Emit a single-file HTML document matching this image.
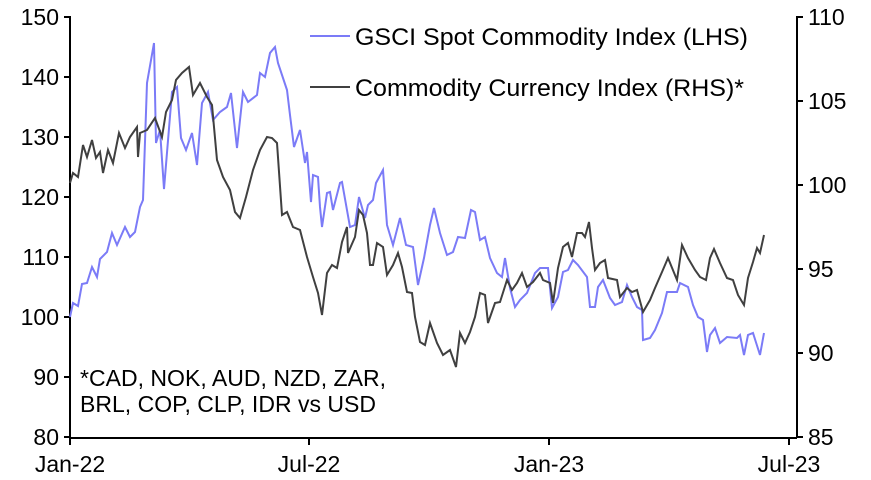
<!DOCTYPE html>
<html><head><style>
html,body{margin:0;padding:0;background:#fff;}
svg{display:block;font-family:"Liberation Sans",Arial,sans-serif;}
</style></head><body>
<svg width="871" height="480" viewBox="0 0 871 480">
<g font-size="23" fill="#000" text-anchor="end">
<text x="59" y="25">150</text><text x="59" y="85">140</text><text x="59" y="145">130</text><text x="59" y="205">120</text><text x="59" y="265">110</text><text x="59" y="325">100</text><text x="59" y="385">90</text><text x="59" y="445">80</text>
</g>
<g font-size="23" fill="#000" text-anchor="start">
<text x="808" y="25">110</text><text x="808" y="109">105</text><text x="808" y="193">100</text><text x="808" y="277">95</text><text x="808" y="361">90</text><text x="808" y="445">85</text>
</g>
<g font-size="23" fill="#000" text-anchor="middle">
<text x="70" y="472">Jan-22</text><text x="309" y="472">Jul-22</text><text x="549" y="472">Jan-23</text><text x="789" y="472">Jul-23</text>
</g>
<g stroke="#000" stroke-width="2" fill="none">
<path d="M70,16V438H797M797,16V438"/>
<path d="M64,17H70M64,77H70M64,137H70M64,197H70M64,257H70M64,317H70M64,377H70M64,437H70"/>
<path d="M797,17H803M797,101H803M797,185H803M797,269H803M797,353H803M797,437H803"/>
<path d="M70,437V445M309,437V445M549,437V445M789,437V445"/>
</g>
<polyline fill="none" stroke="#7b7bf7" stroke-width="2" points="70,317 73,303 78,306 82,284 87,283 92,267 97,277 100,259 107,252 112,233 117,245 125,227 130,237 135,232 140,207 143,200 147,83 154,43 156,143 160,130 164,189 172,92 177,87 181,138 186,150 192,133 197,165 202,103 208,92 213,120 220,112 227,107 231,93 237,148 243,92 248,102 257,95 260,73 265,77 270,53 275,47 278,63 287,90 290,115 294,147 300,130 305,163 307,152 311,202 313,175 318,177 320,207 322,227 327,193 330,192 333,210 340,183 342,182 350,227 355,225 359,197 365,218 368,205 373,200 376,183 383,170 387,225 393,245 400,218 406,245 413,247 418,285 424,258 430,225 434,208 440,233 447,255 453,252 458,237 465,238 471,210 475,212 480,240 485,237 490,258 497,273 502,277 505,258 510,288 515,307 520,300 527,293 535,273 540,268 545,268 548,268 552,308 558,297 563,272 568,270 573,260 578,265 587,277 590,307 595,307 598,287 603,280 610,298 615,305 622,302 627,285 632,297 637,307 642,310 643,340 650,338 655,330 662,313 667,292 677,292 680,283 688,287 693,305 698,317 703,320 707,352 710,335 715,328 720,343 727,337 737,338 740,335 744,355 748,335 753,333 760,355 764,333"/>
<polyline fill="none" stroke="#404040" stroke-width="2" points="70,183 73,173 78,177 83,145 87,157 92,140 96,158 100,152 103,173 108,150 113,163 119,133 125,148 130,137 137,127 138,157 140,133 147,130 155,118 162,137 166,112 172,100 176,80 182,73 189,67 193,95 200,83 207,97 212,105 217,160 223,177 230,190 235,212 240,218 246,197 253,170 260,150 267,137 272,138 277,143 282,215 287,212 293,227 300,230 307,257 313,277 318,293 322,315 327,273 332,265 337,268 342,242 347,227 348,253 355,237 359,210 363,215 367,233 370,265 373,265 377,243 383,247 387,275 393,265 398,253 402,267 407,292 412,293 415,317 420,342 425,345 430,323 437,343 443,355 450,350 456,367 460,333 465,343 470,332 475,317 480,293 485,295 488,323 495,303 500,302 507,280 512,290 517,283 522,273 527,287 533,282 540,273 543,280 550,283 553,303 558,268 563,247 568,243 572,257 577,233 582,233 585,237 589,222 592,248 595,270 600,263 605,260 608,278 617,280 620,297 627,288 632,292 637,290 643,312 650,300 655,288 662,272 668,258 677,280 682,245 688,258 695,270 700,277 706,280 710,258 714,249 720,263 727,278 733,280 738,295 744,305 748,278 753,262 757,248 760,253 764,235"/>
<line x1="310" y1="36" x2="350" y2="36" stroke="#7b7bf7" stroke-width="2"/>
<line x1="310" y1="87" x2="350" y2="87" stroke="#404040" stroke-width="2"/>
<g font-size="24" fill="#000">
<text x="355" y="45" textLength="393" lengthAdjust="spacingAndGlyphs">GSCI Spot Commodity Index (LHS)</text>
<text x="355" y="96" textLength="389" lengthAdjust="spacingAndGlyphs">Commodity Currency Index (RHS)*</text>
</g>
<g font-size="23" fill="#000">
<text x="80" y="386" textLength="306" lengthAdjust="spacingAndGlyphs">*CAD, NOK, AUD, NZD, ZAR,</text>
<text x="80" y="412" textLength="296" lengthAdjust="spacingAndGlyphs">BRL, COP, CLP, IDR vs USD</text>
</g>
</svg>
</body></html>
